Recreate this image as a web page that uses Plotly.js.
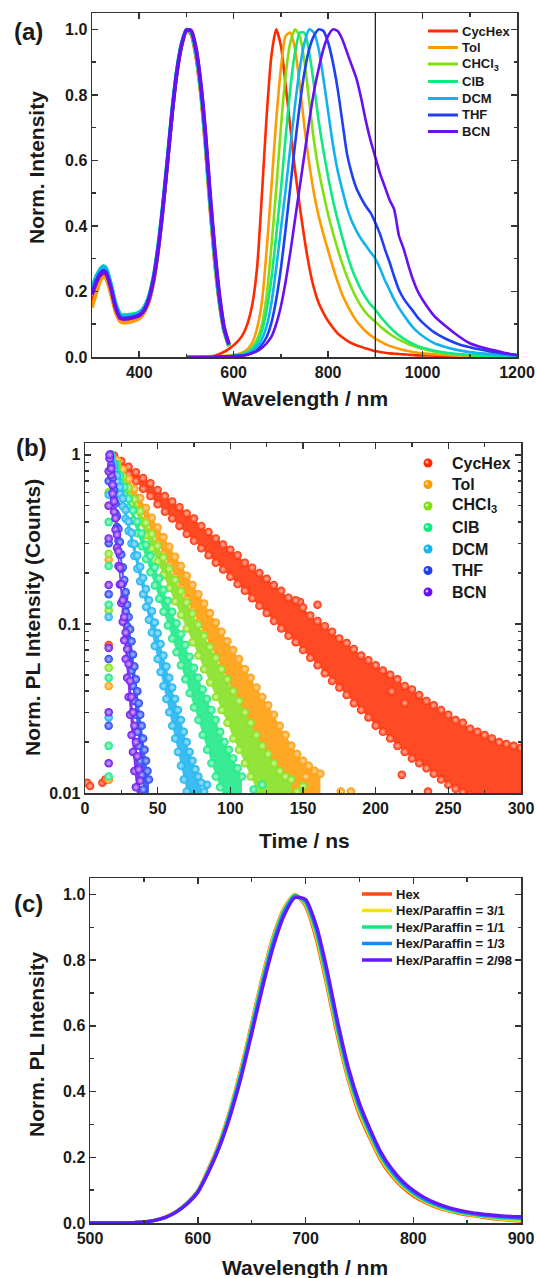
<!DOCTYPE html>
<html><head><meta charset="utf-8">
<script src="https://cdn.plot.ly/plotly-3.0.1.min.js"></script>
<style>html,body{margin:0;padding:0;background:#fff;overflow:hidden}#chart{width:536px;height:1278px}</style>
</head><body><div id="chart"></div><script>
// ---------- Panel (a): absorption + emission ----------
const solventNames = ['CycHex','Tol','CHCl<sub>3</sub>','ClB','DCM','THF','BCN'];
const absX = [300,310,320,325,330,340,350,360,370,380,390,400,410,420,430,440,450,460,470,480,490,500,510,520,530,540,550,560,570,580,590];
const absCycHex = [0.165,0.21,0.245,0.25,0.244,0.198,0.14,0.11,0.106,0.108,0.112,0.118,0.135,0.168,0.228,0.323,0.45,0.597,0.75,0.873,0.955,0.998,0.985,0.92,0.81,0.65,0.46,0.29,0.165,0.077,0.033];
const absTol = [0.15,0.2,0.238,0.244,0.238,0.192,0.137,0.108,0.104,0.107,0.111,0.117,0.134,0.167,0.227,0.322,0.449,0.596,0.749,0.872,0.955,0.998,0.987,0.925,0.815,0.655,0.465,0.295,0.168,0.078,0.034];
const absCHCl3 = [0.2,0.238,0.263,0.267,0.262,0.215,0.155,0.122,0.12,0.122,0.125,0.13,0.145,0.178,0.238,0.333,0.458,0.603,0.753,0.875,0.956,0.999,0.99,0.93,0.82,0.662,0.472,0.302,0.172,0.08,0.034];
const absClB = [0.215,0.25,0.274,0.278,0.272,0.225,0.165,0.132,0.128,0.13,0.132,0.137,0.152,0.185,0.245,0.34,0.465,0.61,0.76,0.88,0.96,1.0,0.99,0.93,0.82,0.66,0.47,0.3,0.17,0.08,0.035];
const absDCM = [0.21,0.248,0.272,0.276,0.27,0.222,0.162,0.128,0.125,0.127,0.13,0.135,0.15,0.183,0.243,0.338,0.462,0.607,0.757,0.878,0.958,0.999,0.992,0.935,0.828,0.67,0.48,0.31,0.175,0.083,0.036];
const absTHF = [0.195,0.235,0.26,0.264,0.258,0.212,0.152,0.12,0.118,0.12,0.123,0.128,0.143,0.176,0.236,0.33,0.455,0.6,0.75,0.872,0.954,0.998,0.995,0.94,0.835,0.68,0.49,0.32,0.18,0.087,0.038];
const absBCN = [0.19,0.23,0.255,0.26,0.254,0.21,0.15,0.118,0.116,0.118,0.121,0.126,0.141,0.174,0.233,0.327,0.452,0.597,0.748,0.87,0.952,0.997,0.997,0.945,0.84,0.69,0.5,0.33,0.19,0.09,0.04];

const emX = [500,520,540,550,560,570,580,590,600,610,620,630,640,650,660,670,680,690,700,710,720,730,740,750,760,770,780,790,800,810,820,830,840,850,860,870,880,890,900,910,920,930,940,950,960,970,980,990,1000,1025,1050,1075,1100,1125,1150,1175,1200];
const emCycHex = [0,0,0.001,0.002,0.004,0.009,0.016,0.025,0.036,0.05,0.07,0.105,0.165,0.28,0.5,0.74,0.92,1.0,0.95,0.83,0.7,0.57,0.46,0.36,0.275,0.21,0.165,0.135,0.11,0.09,0.072,0.06,0.05,0.042,0.036,0.031,0.026,0.022,0.018,0.015,0.013,0.011,0.01,0.009,0.008,0.007,0.006,0.005,0.005,0.004,0.003,0.002,0.002,0.001,0.001,0.001,0.001];
const emTol = [0,0,0,0.001,0.001,0.002,0.003,0.005,0.007,0.009,0.015,0.025,0.045,0.09,0.17,0.33,0.52,0.72,0.88,0.98,0.99,0.94,0.83,0.7,0.59,0.5,0.43,0.375,0.325,0.275,0.23,0.19,0.16,0.133,0.11,0.093,0.078,0.066,0.056,0.048,0.04,0.034,0.029,0.025,0.021,0.018,0.015,0.013,0.011,0.008,0.006,0.004,0.003,0.002,0.002,0.001,0.001];
const emCHCl3 = [0,0,0,0.001,0.001,0.001,0.002,0.003,0.004,0.006,0.01,0.017,0.03,0.055,0.1,0.19,0.34,0.51,0.7,0.86,0.96,1.0,0.98,0.9,0.78,0.66,0.57,0.5,0.435,0.38,0.33,0.285,0.245,0.21,0.18,0.155,0.135,0.12,0.108,0.094,0.082,0.071,0.061,0.053,0.046,0.039,0.034,0.029,0.025,0.017,0.011,0.008,0.005,0.004,0.003,0.002,0.001];
const emClB = [0,0,0,0.001,0.001,0.001,0.002,0.003,0.004,0.006,0.009,0.015,0.027,0.045,0.08,0.145,0.24,0.37,0.51,0.67,0.82,0.93,0.99,0.99,0.93,0.83,0.72,0.63,0.55,0.48,0.42,0.365,0.315,0.27,0.235,0.205,0.18,0.16,0.145,0.125,0.108,0.092,0.078,0.066,0.056,0.047,0.04,0.033,0.028,0.019,0.013,0.009,0.006,0.004,0.003,0.002,0.001];
const emDCM = [0,0,0,0,0.001,0.001,0.002,0.002,0.003,0.005,0.007,0.012,0.02,0.033,0.055,0.095,0.165,0.27,0.39,0.51,0.64,0.77,0.88,0.96,1.0,0.99,0.94,0.85,0.75,0.65,0.57,0.51,0.455,0.415,0.385,0.36,0.34,0.32,0.3,0.27,0.235,0.205,0.175,0.15,0.128,0.108,0.09,0.076,0.064,0.042,0.03,0.021,0.015,0.011,0.008,0.006,0.004];
const emTHF = [0,0,0,0,0.001,0.001,0.002,0.002,0.003,0.004,0.005,0.008,0.013,0.022,0.038,0.062,0.105,0.175,0.27,0.39,0.52,0.65,0.77,0.87,0.94,0.98,1.0,0.995,0.96,0.9,0.82,0.72,0.62,0.56,0.515,0.485,0.46,0.44,0.41,0.375,0.33,0.29,0.245,0.205,0.178,0.158,0.14,0.12,0.105,0.075,0.055,0.04,0.03,0.022,0.015,0.01,0.006];
const emBCN = [0,0,0,0,0,0.001,0.001,0.002,0.002,0.003,0.004,0.007,0.012,0.018,0.028,0.042,0.062,0.1,0.155,0.23,0.32,0.42,0.52,0.62,0.72,0.81,0.88,0.94,0.98,1.0,0.995,0.97,0.93,0.89,0.85,0.79,0.72,0.66,0.61,0.56,0.52,0.48,0.45,0.37,0.33,0.28,0.235,0.2,0.175,0.125,0.093,0.065,0.042,0.03,0.021,0.012,0.006];
const markLineX = [900];

// ---------- Panel (b): PL decays (band edges) ----------
const tCycHex = [18,20,25,30,35,40,45,50,55,60,65,70,75,80,85,90,95,100,105,110,115,120,125,130,135,140,145,150,155,160,165,170,175,180,185,190,195,200,205,210,215,220,225,230,235,240,245,250,255,260,265,270,275,280,285,290,295,300];
const hiCycHex = [1.0,0.99,0.92,0.85,0.79,0.73,0.68,0.62,0.57,0.53,0.49,0.45,0.42,0.38,0.35,0.32,0.295,0.275,0.255,0.23,0.215,0.2,0.185,0.17,0.157,0.143,0.138,0.125,0.112,0.104,0.097,0.09,0.082,0.077,0.071,0.065,0.061,0.057,0.053,0.05,0.047,0.043,0.041,0.038,0.035,0.033,0.031,0.029,0.027,0.026,0.024,0.023,0.022,0.021,0.02,0.0195,0.019,0.0185];
const loCycHex = [0.97,0.94,0.85,0.77,0.70,0.63,0.57,0.51,0.46,0.42,0.38,0.34,0.31,0.28,0.255,0.23,0.21,0.19,0.172,0.157,0.142,0.128,0.116,0.104,0.094,0.085,0.078,0.07,0.063,0.057,0.051,0.046,0.042,0.038,0.034,0.031,0.028,0.025,0.023,0.021,0.019,0.0175,0.016,0.015,0.014,0.013,0.012,0.0112,0.0106,0.0101,0.0097,0.0095,0.0094,0.0093,0.0092,0.0092,0.0092,0.0092];
const tTol = [18,22,26,30,34,38,42,46,50,54,58,62,66,70,74,78,82,86,90,94,98,102,106,110,114,118,122,126,130,134,138,142,146,150,154,158,162];
const hiTol = [1.0,0.93,0.82,0.72,0.63,0.555,0.485,0.425,0.372,0.325,0.286,0.25,0.22,0.193,0.17,0.15,0.132,0.116,0.102,0.09,0.079,0.07,0.062,0.054,0.048,0.042,0.037,0.033,0.029,0.025,0.022,0.019,0.017,0.0155,0.0145,0.0135,0.013];
const loTol = [0.96,0.87,0.75,0.64,0.55,0.475,0.41,0.35,0.3,0.258,0.222,0.19,0.163,0.14,0.12,0.102,0.088,0.075,0.064,0.055,0.047,0.04,0.034,0.029,0.025,0.021,0.018,0.0155,0.0135,0.0118,0.0105,0.0095,0.0092,0.009,0.009,0.009,0.009];
const tCHCl3 = [18,22,26,30,34,38,42,46,50,54,58,62,66,70,74,78,82,86,90,94,98,102,106,110,114,118,122,126,130,134,138,142];
const hiCHCl3 = [1.0,0.88,0.745,0.64,0.545,0.465,0.397,0.34,0.29,0.247,0.212,0.182,0.156,0.134,0.115,0.099,0.085,0.073,0.063,0.054,0.047,0.04,0.035,0.03,0.026,0.022,0.019,0.017,0.015,0.0135,0.0125,0.012];
const loCHCl3 = [0.96,0.82,0.685,0.57,0.477,0.4,0.335,0.28,0.234,0.195,0.163,0.136,0.113,0.094,0.078,0.065,0.054,0.045,0.037,0.031,0.026,0.021,0.018,0.015,0.0125,0.0105,0.0095,0.009,0.009,0.009,0.009,0.009];
const tClB = [18,21,24,27,30,33,36,39,42,45,48,51,54,57,60,63,66,69,72,75,78,81,84,87,90,93,96,99,102,105,108];
const hiClB = [1.0,0.88,0.755,0.645,0.55,0.47,0.402,0.343,0.294,0.252,0.216,0.186,0.159,0.137,0.118,0.101,0.087,0.075,0.064,0.055,0.048,0.041,0.036,0.031,0.027,0.023,0.02,0.018,0.016,0.014,0.0125];
const loClB = [0.96,0.82,0.685,0.575,0.485,0.408,0.344,0.288,0.242,0.202,0.169,0.141,0.118,0.098,0.082,0.068,0.057,0.047,0.039,0.032,0.027,0.022,0.018,0.015,0.0125,0.0108,0.0096,0.009,0.009,0.009,0.009];
const tDCM = [18,20,22,24,26,28,30,32,34,36,38,40,42,44,46,48,50,52,54,56,58,60,62,64,66,68,70,72,74,76,78,80];
const hiDCM = [1.0,0.88,0.755,0.645,0.552,0.472,0.404,0.346,0.297,0.254,0.218,0.187,0.161,0.138,0.119,0.102,0.088,0.076,0.065,0.056,0.048,0.042,0.036,0.031,0.027,0.023,0.02,0.0175,0.0155,0.0138,0.0125,0.0115];
const loDCM = [0.96,0.82,0.695,0.588,0.496,0.419,0.354,0.299,0.252,0.212,0.179,0.15,0.126,0.106,0.089,0.074,0.062,0.052,0.043,0.036,0.03,0.025,0.021,0.0175,0.0145,0.012,0.0102,0.009,0.009,0.009,0.009,0.009];
const tTHF = [17,18,19,20,21,22,23,24,25,26,27,28,29,30,31,32,33,34,35,36,37,38,39,40,41,42,43,44];
const hiTHF = [1.0,0.87,0.73,0.615,0.515,0.433,0.364,0.305,0.257,0.216,0.182,0.154,0.13,0.11,0.093,0.079,0.066,0.056,0.047,0.04,0.034,0.029,0.025,0.021,0.018,0.0155,0.0135,0.012];
const loTHF = [0.95,0.8,0.66,0.545,0.452,0.374,0.31,0.256,0.211,0.174,0.143,0.118,0.097,0.08,0.065,0.053,0.043,0.035,0.029,0.023,0.019,0.0155,0.0128,0.0105,0.0092,0.009,0.009,0.009];
const tBCN = [17,18,19,20,21,22,23,24,25,26,27,28,29,30,31,32,33,34,35,36,37,38];
const hiBCN = [1.0,0.83,0.665,0.532,0.422,0.337,0.269,0.215,0.172,0.138,0.11,0.089,0.071,0.058,0.046,0.037,0.03,0.025,0.02,0.0165,0.0138,0.0118];
const loBCN = [0.95,0.76,0.59,0.46,0.36,0.282,0.22,0.171,0.133,0.103,0.08,0.062,0.048,0.037,0.029,0.022,0.0175,0.0135,0.0108,0.0092,0.009,0.009];
// rising-edge / background / scattered points
const riseTCycHex = [1.5,3.5,12,14,16.3,16.3,211,220,218,236,160,148];
const riseVCycHex = [0.0115,0.011,0.0115,0.012,0.075,0.012,0.04,0.034,0.0128,0.0102,0.13,0.135];
const riseTTol = [16.3,16.3,16.3,16.3,152,158,176,183];
const riseVTol = [0.5,0.24,0.043,0.012,0.0125,0.0135,0.0102,0.0102];
const riseTCHCl3 = [16.3,16.3,16.3,16.3,146,150];
const riseVCHCl3 = [0.6,0.26,0.12,0.055,0.0102,0.011];
const riseTClB = [16.3,16.3,16.3,16.3,16.3,16.3,116,122];
const riseVClB = [0.4,0.22,0.13,0.048,0.019,0.0125,0.0105,0.0112];
const riseTDCM = [16.3,16.3,16.3,82,84];
const riseVDCM = [0.58,0.11,0.028,0.0102,0.0112];
const riseTTHF = [16.3,16.3,16.3,16.3,16.3];
const riseVTHF = [0.7,0.3,0.15,0.062,0.025];
const riseTBCN = [16.3,16.3,16.3,16.3,16.3,16.3,16.3];
const riseVBCN = [0.8,0.5,0.32,0.17,0.072,0.03,0.015];

// ---------- Panel (c): PL in hexane / paraffin ----------
const mixNames = ['Hex','Hex/Paraffin = 3/1','Hex/Paraffin = 1/1','Hex/Paraffin = 1/3','Hex/Paraffin = 2/98'];
const cX = [500,510,520,530,540,550,560,570,580,590,600,610,620,630,640,650,660,670,680,690,700,710,720,730,740,750,760,770,780,790,800,810,820,830,840,850,860,870,880,890,900];
const cHex = [0,0,0,0,0.001,0.003,0.008,0.018,0.035,0.061,0.098,0.165,0.245,0.345,0.468,0.607,0.75,0.872,0.958,1.0,0.965,0.865,0.72,0.565,0.432,0.33,0.256,0.19,0.143,0.109,0.083,0.064,0.05,0.039,0.031,0.025,0.02,0.015,0.011,0.008,0.006];
const cHexPar31 = [0,0,0,0,0.001,0.003,0.008,0.018,0.035,0.06,0.097,0.162,0.242,0.342,0.464,0.602,0.745,0.867,0.955,1.0,0.97,0.875,0.73,0.575,0.44,0.338,0.262,0.196,0.148,0.113,0.087,0.067,0.052,0.041,0.033,0.027,0.022,0.017,0.013,0.01,0.008];
const cHexPar11 = [0,0,0,0,0.001,0.003,0.008,0.017,0.034,0.06,0.096,0.16,0.238,0.338,0.458,0.595,0.737,0.86,0.95,0.998,0.975,0.885,0.742,0.585,0.45,0.347,0.27,0.202,0.153,0.117,0.09,0.07,0.055,0.044,0.035,0.029,0.024,0.02,0.016,0.014,0.012];
const cHexPar13 = [0,0,0,0,0.001,0.003,0.008,0.017,0.034,0.059,0.095,0.158,0.235,0.332,0.45,0.587,0.728,0.852,0.944,0.995,0.98,0.895,0.755,0.597,0.46,0.355,0.277,0.208,0.158,0.121,0.094,0.073,0.058,0.047,0.038,0.031,0.026,0.022,0.019,0.017,0.015];
const cHexPar298 = [0,0,0,0,0.001,0.003,0.008,0.017,0.033,0.058,0.093,0.155,0.23,0.325,0.44,0.575,0.715,0.84,0.935,0.99,0.985,0.905,0.77,0.61,0.47,0.365,0.285,0.215,0.165,0.127,0.099,0.078,0.062,0.05,0.041,0.034,0.029,0.025,0.022,0.02,0.019];

// ---------- styles ----------
const FONT = 'Liberation Sans, Arial, Helvetica, sans-serif';
const solventColors = ['#ff2a00','#ff9a00','#80df10','#10e880','#12b2f0','#1f3ff5','#6a10f0'];
const solventTints = ['#ffb8a6','#ffd9a3','#d6f7a8','#b0f8d2','#ade4fb','#b0bcfb','#cfb0fb'];
const bandFills = ['#ff4a26','#ffa826','#93e43a','#38ec96','#3abdf2','#4462f6','#8238f2'];
const mixColors = ['#ff4a14','#f2e600','#14e87c','#148cff','#6418ff'];
// legend placement (page pixels)
const legA = {x0:428, x1:458, tx:461, rows:[31,47.5,64,81.5,98.5,115,131.5], size:13};
const legB = {cx:428, tx:451, rows:[463,484.5,506,527.5,549,570.5,592], size:16};
const legC = {x0:362, x1:392, tx:395, rows:[894,910.5,927,943.5,960], size:13};

const absY = [absCycHex,absTol,absCHCl3,absClB,absDCM,absTHF,absBCN];
const emY = [emCycHex,emTol,emCHCl3,emClB,emDCM,emTHF,emBCN];
const decT = [tCycHex,tTol,tCHCl3,tClB,tDCM,tTHF,tBCN];
const decHi = [hiCycHex,hiTol,hiCHCl3,hiClB,hiDCM,hiTHF,hiBCN];
const decLo = [loCycHex,loTol,loCHCl3,loClB,loDCM,loTHF,loBCN];
const riseT = [riseTCycHex,riseTTol,riseTCHCl3,riseTClB,riseTDCM,riseTTHF,riseTBCN];
const riseV = [riseVCycHex,riseVTol,riseVCHCl3,riseVClB,riseVDCM,riseVTHF,riseVBCN];
const mixY = [cHex,cHexPar31,cHexPar11,cHexPar13,cHexPar298];

const traces = [];
for (let i = 0; i < 7; i++) {
  traces.push({x:absX, y:absY[i], xaxis:'x', yaxis:'y', mode:'lines', showlegend:false, hoverinfo:'skip',
    line:{color:solventColors[i], width:3.6, shape:'spline', smoothing:0.6}});
  traces.push({x:emX, y:emY[i], xaxis:'x', yaxis:'y', mode:'lines', name:solventNames[i], showlegend:false,
    line:{color:solventColors[i], width:2.6, shape:'spline', smoothing:0.6}});
}
for (let i = 0; i < 7; i++) {
  const t = decT[i], hi = decHi[i], lo = decLo[i];
  const mk = {size:8.5, color:solventColors[i], gradient:{type:'radial', color:solventTints[i]}, line:{width:0}};
  traces.push({x:t.concat(t.slice().reverse()), y:hi.concat(lo.slice().reverse()), xaxis:'x2', yaxis:'y2',
    mode:'lines', fill:'toself', fillcolor:bandFills[i], line:{width:0, color:solventColors[i]}, showlegend:false, hoverinfo:'skip'});
  traces.push({x:t, y:lo, xaxis:'x2', yaxis:'y2', mode:'markers', marker:mk, showlegend:false});
  traces.push({x:riseT[i], y:riseV[i], xaxis:'x2', yaxis:'y2', mode:'markers', marker:mk, showlegend:false});
  traces.push({x:t, y:hi, xaxis:'x2', yaxis:'y2', mode:'markers', marker:mk, name:solventNames[i], showlegend:false});
}
for (let i = 0; i < 5; i++) {
  traces.push({x:cX, y:mixY[i], xaxis:'x3', yaxis:'y3', mode:'lines', name:mixNames[i], showlegend:false,
    line:{color:mixColors[i], width:3.4, shape:'spline', smoothing:0.6}});
}

function ax(extra) {
  return Object.assign({
    showline:true, linecolor:'#333', linewidth:1.5, mirror:'ticks',
    ticks:'inside', ticklen:6, tickwidth:1.5, tickcolor:'#333',
    showgrid:false, zeroline:false,
    tickfont:{family:FONT, size:16, color:'#1a1a1a', weight:'bold'},
  }, extra);
}
const minorSty = {ticks:'inside', ticklen:3.5, tickwidth:1.5, tickcolor:'#333', showgrid:false};
const logMinor = [0.02,0.03,0.04,0.05,0.06,0.07,0.08,0.09,0.2,0.3,0.4,0.5,0.6,0.7,0.8,0.9];

const W = 536, H = 1278;
const px = v => v / W, py = v => 1 - v / H;
function ann(text, x, y, size, angle, anchor) {
  return {text:text, xref:'paper', yref:'paper', x:px(x), y:py(y), xanchor:anchor || 'center', yanchor:'middle',
    showarrow:false, textangle:angle || 0, borderpad:0, font:{family:FONT, size:size, color:'#1a1a1a', weight:'bold'}};
}
const annotations = [
  ann('(a)', 29, 31, 24), ann('(b)', 31, 448, 24), ann('(c)', 29, 903, 24),
  ann('Wavelength / nm', 305, 398, 21), ann('Norm. Intensity', 36, 168, 21, -90),
  ann('Time / ns', 304, 841, 21), ann('Norm. PL Intensity (Counts)', 32, 618, 21, -90),
  ann('Wavelength / nm', 305, 1267, 21), ann('Norm. PL Intensity', 36, 1045, 21, -90)
];
const shapes = [{type:'line', xref:'x', yref:'y domain', x0:markLineX[0], x1:markLineX[0], y0:0, y1:1, line:{color:'#222', width:1.3}}];
// manual legends (a), (b), (c)
solventNames.forEach((n, i) => {
  const ya = legA.rows[i];
  shapes.push({type:'line', xref:'paper', yref:'paper', x0:px(legA.x0), x1:px(legA.x1), y0:py(ya), y1:py(ya), line:{color:solventColors[i], width:3}});
  annotations.push(ann(n, legA.tx, ya, legA.size, 0, 'left'));
  const yb = legB.rows[i], r = 4.5;
  shapes.push({type:'circle', xref:'paper', yref:'paper', x0:px(legB.cx - r), x1:px(legB.cx + r), y0:py(yb + r), y1:py(yb - r), fillcolor:solventColors[i], line:{width:0}});
  shapes.push({type:'circle', xref:'paper', yref:'paper', x0:px(legB.cx - 2.6), x1:px(legB.cx + 0.4), y0:py(yb + 0.4), y1:py(yb - 2.6), fillcolor:solventTints[i], line:{width:0}});
  annotations.push(ann(n, legB.tx, yb, legB.size, 0, 'left'));
});
mixNames.forEach((n, i) => {
  const yc = legC.rows[i];
  shapes.push({type:'line', xref:'paper', yref:'paper', x0:px(legC.x0), x1:px(legC.x1), y0:py(yc), y1:py(yc), line:{color:mixColors[i], width:3.5}});
  annotations.push(ann(n, legC.tx, yc, legC.size, 0, 'left'));
});

const layout = {
  width:W, height:H, margin:{l:0,r:0,t:0,b:0}, paper_bgcolor:'#fff', plot_bgcolor:'#fff', showlegend:false,
  xaxis: ax({domain:[px(92),px(517)], range:[300,1200], tick0:0, dtick:200, anchor:'y', minor:Object.assign({dtick:100}, minorSty)}),
  yaxis: ax({domain:[py(357),py(13)], range:[0,1.05], dtick:0.2, tickformat:'.1f', anchor:'x', minor:Object.assign({dtick:0.1}, minorSty)}),
  xaxis2: ax({domain:[px(85),px(521)], range:[0,300], dtick:50, anchor:'y2', minor:Object.assign({dtick:25}, minorSty)}),
  yaxis2: ax({domain:[py(793),py(443)], type:'log', range:[-2,0.07], tickmode:'array', tickvals:[0.01,0.1,1], ticktext:['0.01','0.1','1'], anchor:'x2',
    minor:Object.assign({tickmode:'array', tickvals:logMinor}, minorSty)}),
  xaxis3: ax({domain:[px(90),px(521)], range:[500,900], dtick:100, anchor:'y3', minor:Object.assign({dtick:50}, minorSty)}),
  yaxis3: ax({domain:[py(1223),py(878)], range:[0,1.05], dtick:0.2, tickformat:'.1f', anchor:'x3', minor:Object.assign({dtick:0.1}, minorSty)}),
  shapes: shapes,
  annotations: annotations
};
Plotly.newPlot('chart', traces, layout, {staticPlot:true, displayModeBar:false});
</script></body></html>
